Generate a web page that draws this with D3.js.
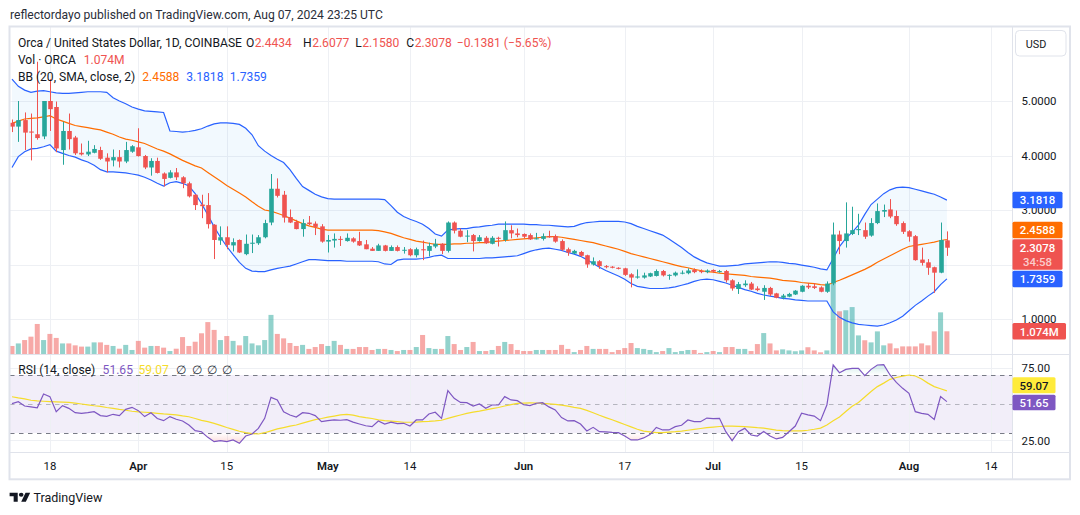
<!DOCTYPE html>
<html><head><meta charset="utf-8">
<script src="https://cdn.jsdelivr.net/npm/d3@7"></script>
<style>
html,body{margin:0;padding:0;background:#fff;}
svg{display:block;font-family:Roboto,'Noto Sans',sans-serif;}
</style></head><body>
<svg id="c" width="1080" height="515"></svg>
<script>
// ---------------- DATA ----------------
const startDate = "2024-03-12";
const endAxisDate = "2024-08-14";
const opens = [
4.60,4.53,4.65,4.44,4.39,4.35,5.00,4.89,4.10,4.45,
4.33,4.05,4.02,4.05,4.10,3.96,3.91,3.97,3.89,4.07,
4.15,3.99,3.78,3.90,3.67,3.59,3.69,3.60,3.49,3.28,
3.10,3.09,2.73,2.44,2.50,2.35,2.45,2.19,2.38,2.39,
2.50,2.77,3.39,3.28,2.87,2.78,2.65,2.77,2.75,2.70,
2.42,2.44,2.47,2.43,2.48,2.43,2.37,2.29,2.25,2.35,
2.25,2.32,2.26,2.28,2.17,2.28,2.25,2.33,2.38,2.25,
2.77,2.62,2.52,2.54,2.43,2.49,2.38,2.49,2.45,2.63,
2.57,2.56,2.54,2.47,2.47,2.52,2.52,2.43,2.28,2.20,
2.23,2.17,2.00,2.06,1.97,1.96,1.94,1.93,1.82,1.76,
1.76,1.78,1.79,1.88,1.80,1.80,1.84,1.84,1.90,1.88,
1.86,1.90,1.86,1.88,1.71,1.55,1.62,1.65,1.56,1.50,
1.57,1.47,1.39,1.41,1.45,1.50,1.61,1.60,1.58,1.50,
1.65,2.55,2.43,2.56,2.63,2.63,2.53,2.76,2.97,3.01,
2.89,2.76,2.61,2.52,2.09,2.04,1.95,1.85,2.4434];
const highs = [
4.66,5.00,4.79,4.77,5.72,5.00,5.40,4.99,4.62,4.77,
4.36,4.22,4.27,4.19,4.16,4.04,4.11,4.10,4.25,4.19,
4.50,4.01,3.95,3.96,3.69,3.73,3.77,3.62,3.52,3.29,
3.28,3.31,2.74,2.70,2.70,2.48,2.46,2.55,2.55,2.54,
2.82,3.66,3.58,3.35,3.01,2.82,2.83,2.89,2.79,2.74,
2.54,2.57,2.52,2.57,2.50,2.60,2.45,2.32,2.38,2.36,
2.35,2.35,2.32,2.30,2.31,2.44,2.40,2.47,2.39,2.79,
2.79,2.66,2.63,2.56,2.54,2.52,2.52,2.51,2.79,2.72,
2.66,2.57,2.57,2.58,2.57,2.62,2.55,2.46,2.31,2.27,
2.25,2.18,2.13,2.08,1.99,1.97,1.95,1.94,1.84,1.91,
1.85,1.85,1.91,1.90,1.82,1.87,1.89,1.93,1.93,1.91,
1.91,1.91,1.90,1.90,1.73,1.68,1.71,1.68,1.60,1.62,
1.59,1.48,1.46,1.48,1.53,1.62,1.66,1.66,1.60,1.69,
2.77,2.62,3.14,3.06,2.93,2.77,2.85,3.12,3.10,3.20,
2.99,2.79,2.63,2.54,2.31,2.10,1.96,2.77,2.6077];
const lows = [
4.43,4.25,4.10,3.91,4.29,4.30,4.45,4.06,3.83,4.11,
4.01,4.00,3.99,4.04,3.92,3.69,3.80,3.78,3.86,4.05,
3.98,3.75,3.63,3.67,3.43,3.58,3.55,3.40,3.23,3.00,
2.85,2.66,2.10,2.36,2.28,2.24,2.21,2.17,2.21,2.36,
2.48,2.72,3.23,2.77,2.76,2.645,2.51,2.72,2.54,2.40,
2.22,2.31,2.34,2.42,2.40,2.34,2.28,2.25,2.25,2.24,
2.25,2.24,2.20,2.15,2.13,2.08,2.15,2.30,2.19,2.22,
2.57,2.50,2.41,2.24,2.42,2.38,2.37,2.33,2.42,2.48,
2.50,2.48,2.45,2.46,2.44,2.49,2.40,2.25,2.16,2.19,
2.14,1.94,1.98,1.92,1.93,1.93,1.91,1.79,1.58,1.74,
1.74,1.77,1.78,1.78,1.72,1.78,1.82,1.82,1.84,1.84,
1.84,1.85,1.85,1.67,1.52,1.46,1.59,1.53,1.51,1.35,
1.42,1.38,1.36,1.40,1.44,1.49,1.55,1.55,1.49,1.48,
1.62,2.19,2.31,2.54,2.54,2.47,2.51,2.74,2.87,2.85,
2.71,2.56,2.42,2.07,1.98,1.81,1.48,1.84,2.1580];
const closes = [
4.53,4.65,4.42,4.42,4.32,5.00,4.85,4.13,4.45,4.30,
4.04,4.02,4.07,4.12,3.94,3.89,3.97,3.89,4.10,4.17,
3.99,3.78,3.90,3.68,3.57,3.69,3.60,3.49,3.25,3.09,
3.07,2.74,2.45,2.50,2.36,2.41,2.22,2.38,2.40,2.50,
2.76,3.39,3.26,2.86,2.77,2.65,2.76,2.74,2.69,2.42,
2.45,2.47,2.46,2.49,2.42,2.35,2.28,2.25,2.35,2.25,
2.32,2.25,2.27,2.17,2.28,2.26,2.34,2.38,2.25,2.77,
2.62,2.51,2.53,2.43,2.50,2.39,2.49,2.47,2.63,2.57,
2.54,2.51,2.46,2.48,2.52,2.50,2.42,2.27,2.22,2.25,
2.16,2.00,2.06,1.97,1.95,1.94,1.92,1.81,1.76,1.78,
1.80,1.84,1.88,1.80,1.81,1.85,1.85,1.89,1.86,1.86,
1.89,1.87,1.88,1.71,1.56,1.64,1.65,1.54,1.53,1.57,
1.45,1.39,1.43,1.46,1.52,1.61,1.58,1.57,1.50,1.65,
2.55,2.43,2.57,2.63,2.65,2.51,2.76,2.98,3.00,2.88,
2.74,2.60,2.51,2.08,2.03,1.94,1.85,2.45,2.3078];
const lastChange = -0.1381;
const lastChangePct = -5.65;
// volume in millions
const volumes = [
0.38,0.50,0.66,0.82,1.42,0.66,0.95,0.76,0.50,0.50,
0.41,0.35,0.35,0.55,0.55,0.43,0.38,0.25,0.43,0.19,
0.62,0.30,0.38,0.38,0.30,0.14,0.25,0.80,0.38,0.58,
0.98,1.51,1.14,0.66,0.85,0.62,0.41,0.85,0.50,0.41,
0.66,1.85,0.95,0.74,0.52,0.38,0.43,0.24,0.33,0.47,
0.38,0.62,0.43,0.24,0.24,0.33,0.33,0.19,0.24,0.24,
0.19,0.14,0.19,0.19,0.33,0.90,0.28,0.24,0.24,0.85,
0.47,0.19,0.33,0.57,0.14,0.14,0.19,0.38,0.57,0.47,
0.19,0.14,0.14,0.19,0.19,0.19,0.19,0.43,0.24,0.09,
0.19,0.38,0.24,0.24,0.24,0.09,0.19,0.28,0.52,0.28,
0.24,0.19,0.09,0.14,0.28,0.09,0.14,0.19,0.19,0.05,
0.09,0.14,0.09,0.33,0.33,0.24,0.24,0.14,0.47,0.99,
0.50,0.17,0.22,0.17,0.13,0.17,0.32,0.17,0.08,0.17,
3.33,2.02,2.07,2.22,0.88,0.65,0.55,1.07,0.41,0.50,
0.27,0.36,0.36,0.36,0.50,0.41,1.07,1.97,1.074];
const bbUpper = [
5.40,5.27,5.20,5.16,5.18,5.19,5.17,5.15,5.14,5.14,
5.15,5.16,5.17,5.17,5.17,5.16,5.06,5.00,4.95,4.89,
4.85,4.82,4.81,4.80,4.79,4.45,4.44,4.43,4.44,4.46,
4.49,4.54,4.58,4.60,4.60,4.59,4.57,4.50,4.38,4.18,
4.08,4.00,3.93,3.87,3.74,3.58,3.43,3.36,3.29,3.24,
3.21,3.20,3.20,3.20,3.20,3.20,3.20,3.20,3.20,3.19,
3.08,2.96,2.88,2.83,2.79,2.74,2.66,2.56,2.52,2.63,
2.65,2.66,2.66,2.68,2.69,2.71,2.72,2.74,2.74,2.74,
2.74,2.74,2.73,2.73,2.72,2.72,2.71,2.70,2.69,2.70,
2.74,2.77,2.78,2.79,2.79,2.79,2.79,2.78,2.75,2.70,
2.66,2.62,2.58,2.54,2.47,2.39,2.31,2.22,2.14,2.08,
2.03,2.00,1.97,1.97,1.98,1.99,2.01,2.02,2.03,2.04,
2.05,2.05,2.04,2.02,2.01,1.99,1.97,1.95,1.92,1.90,
2.11,2.33,2.48,2.59,2.72,2.92,3.10,3.20,3.30,3.37,
3.41,3.42,3.41,3.38,3.35,3.32,3.29,3.24,3.1818];
const bbBasis = [
4.59,4.63,4.67,4.68,4.69,4.71,4.73,4.67,4.63,4.59,
4.55,4.53,4.51,4.49,4.47,4.43,4.39,4.34,4.30,4.28,
4.25,4.22,4.17,4.12,4.08,4.03,3.97,3.91,3.86,3.81,
3.77,3.69,3.61,3.53,3.45,3.38,3.31,3.24,3.15,3.07,
3.00,2.98,2.94,2.90,2.85,2.80,2.75,2.71,2.68,2.65,
2.63,2.63,2.63,2.63,2.63,2.63,2.63,2.63,2.62,2.60,
2.57,2.53,2.49,2.46,2.43,2.41,2.39,2.37,2.37,2.37,
2.38,2.38,2.39,2.39,2.40,2.40,2.42,2.43,2.44,2.45,
2.46,2.47,2.48,2.49,2.50,2.51,2.51,2.50,2.48,2.46,
2.44,2.42,2.40,2.37,2.34,2.31,2.28,2.24,2.20,2.17,
2.14,2.11,2.08,2.05,2.02,1.99,1.96,1.94,1.91,1.89,
1.87,1.86,1.84,1.83,1.82,1.81,1.80,1.78,1.77,1.76,
1.75,1.73,1.71,1.70,1.69,1.67,1.66,1.65,1.63,1.62,
1.67,1.71,1.76,1.81,1.86,1.91,1.97,2.04,2.10,2.16,
2.22,2.28,2.33,2.35,2.37,2.39,2.41,2.44,2.4588];
const bbLower = [
3.78,3.98,4.07,4.12,4.13,4.16,4.20,4.08,4.04,4.00,
3.97,3.92,3.88,3.82,3.74,3.70,3.70,3.69,3.68,3.66,
3.64,3.60,3.55,3.49,3.44,3.50,3.52,3.49,3.44,3.30,
3.12,2.91,2.69,2.50,2.33,2.18,2.04,1.93,1.88,1.87,
1.87,1.90,1.93,1.95,1.97,2.01,2.05,2.09,2.09,2.08,
2.07,2.07,2.07,2.06,2.06,2.06,2.06,2.06,2.05,2.01,
2.00,2.08,2.10,2.10,2.10,2.11,2.13,2.16,2.17,2.11,
2.11,2.11,2.11,2.11,2.11,2.12,2.12,2.13,2.14,2.15,
2.16,2.20,2.24,2.27,2.29,2.30,2.28,2.26,2.22,2.19,
2.15,2.09,2.02,1.95,1.89,1.84,1.79,1.73,1.65,1.60,
1.58,1.56,1.56,1.56,1.57,1.59,1.62,1.65,1.69,1.72,
1.73,1.72,1.69,1.66,1.62,1.58,1.54,1.51,1.47,1.44,
1.42,1.40,1.38,1.37,1.35,1.34,1.33,1.33,1.33,1.33,
1.13,1.03,0.97,0.93,0.90,0.89,0.88,0.87,0.89,0.93,
0.98,1.05,1.15,1.25,1.33,1.42,1.50,1.63,1.7359];
const rsi = [
50.3,51.6,48.6,48.0,47.4,56.9,55.1,44.7,48.9,47.0,
44.0,43.6,44.0,44.7,42.0,41.5,42.9,42.0,46.3,47.7,
45.4,41.3,44.0,40.0,38.5,41.3,39.5,38.3,35.5,31.6,
30.9,27.0,24.0,24.7,24.0,25.2,22.9,27.9,29.3,33.2,
40.1,54.6,52.8,44.7,42.4,41.0,44.0,43.6,42.0,37.8,
38.5,39.0,38.8,39.2,37.5,36.2,35.0,34.4,38.3,36.2,
37.5,36.5,36.7,34.8,39.0,39.0,43.1,44.3,40.1,59.2,
53.9,51.1,50.9,48.6,50.0,47.0,49.3,49.3,55.1,52.8,
52.3,49.5,48.9,50.5,50.9,48.0,45.9,40.6,38.3,38.5,
36.2,31.4,33.9,30.9,30.8,30.4,30.2,27.9,25.2,25.2,
26.6,28.9,33.9,32.1,32.1,34.4,35.3,39.0,37.8,37.8,
40.3,39.9,40.1,30.9,24.7,30.9,33.2,28.6,27.9,31.1,
27.9,25.9,27.0,30.9,34.8,43.6,42.5,41.7,38.5,49.3,
76.9,71.6,73.9,74.6,74.6,69.5,73.9,76.9,77.1,70.0,
64.9,60.8,57.4,44.7,43.5,42.9,39.4,55.1,51.65];
const rsiMA = [
55.0,54.2,53.5,52.6,52.1,51.9,51.7,51.5,51.3,51.1,
50.6,50.0,49.4,48.8,48.3,47.6,47.0,46.3,45.7,45.0,
44.6,44.3,44.0,43.6,43.2,42.9,42.5,41.8,41.2,40.0,
38.7,37.8,36.6,35.3,33.8,32.5,31.2,30.3,29.6,29.3,
30.2,31.5,32.8,33.7,34.7,35.5,36.8,38.0,39.2,40.0,
40.9,41.7,42.5,42.9,42.3,41.3,40.6,40.0,39.1,38.6,
38.2,37.8,37.4,37.4,37.5,37.8,38.0,38.3,38.8,40.1,
41.3,42.4,43.5,44.4,45.1,45.9,46.8,47.6,48.6,49.6,
50.4,50.6,50.8,50.7,50.4,50.1,49.8,49.2,48.5,47.7,
47.0,45.6,44.0,42.2,40.6,39.1,37.5,35.9,34.2,32.6,
31.3,30.8,30.3,30.3,30.6,30.9,31.3,31.9,32.5,33.1,
33.7,34.1,34.5,34.8,34.7,34.6,34.4,34.1,33.7,33.4,
32.7,32.0,31.6,31.5,31.4,31.4,31.9,32.6,33.4,35.5,
38.4,41.0,44.8,48.5,51.0,54.8,58.6,62.0,64.4,67.0,
68.3,69.2,70.0,69.3,67.3,64.4,62.0,60.5,59.07];
const priceTicks = [1,2,3,4,5];
const rsiTicks = [25,75];
const rsiLevels = [70,50,30];
const timeTickDates = ["2024-03-18","2024-04-01","2024-04-15","2024-05-01","2024-05-14","2024-06-01","2024-06-17","2024-07-01","2024-07-15","2024-08-01","2024-08-14"];
const timeTickLabels = ["18","Apr","15","May","14","Jun","17","Jul","15","Aug","14"];

// ---------------- LAYOUT ----------------
const svg = d3.select('#c');
const PL = 10, PR = 1012, FR = 1070;
const priceTop = 27, priceBot = 354, rsiTop = 354.5, rsiBot = 452.5, axisBot = 479.3;
const DARK = '#131722', UP = '#26a69a', DOWN = '#ef5350';
const BLUE = '#2962ff', ORANGE = '#ff6d00', PURPLE = '#7e57c2', YELLOW = '#f5dc2c';

const parse = d3.utcParse('%Y-%m-%d');
const start = parse(startDate);
const dates = d3.range(closes.length).map(i => d3.utcDay.offset(start, i));
const x = d3.scaleUtc().domain([start, parse(endAxisDate)]).range([12, 991.1]);
const y = d3.scaleLinear().domain([1, 5]).range([319, 101]);
const yv = d3.scaleLinear().domain([0, 1.074]).range([354, 331.3]);
const yr = d3.scaleLinear().domain([30, 70]).range([433, 375]);

const data = dates.map((d, i) => ({d, o: opens[i], h: highs[i], l: lows[i], c: closes[i], v: volumes[i],
  up: bbUpper[i], mid: bbBasis[i], lo: bbLower[i], r: rsi[i], ma: rsiMA[i]}));

function fitSize(str, target, weight) {
  const t = svg.append('text').attr('font-weight', weight || 400).text(str);
  let s = 100;
  for (let k = 0; k < 4; k++) {
    t.attr('font-size', s);
    const w = t.node().getComputedTextLength();
    s = s * target / w;
  }
  t.remove();
  return s;
}
const headerSize = fitSize('reflectordayo published on TradingView.com, Aug 07, 2024 23:25 UTC', 373);
const legendSize = fitSize('Orca / United States Dollar, 1D, COINBASE', 224);
const axisSize = fitSize('5.0000', 35);
const footSize = fitSize('TradingView', 69);

svg.append('rect').attr('width', 1080).attr('height', 515).attr('fill', '#fff');

const defs = svg.append('defs');
defs.append('clipPath').attr('id', 'cp').append('rect').attr('x', PL).attr('y', priceTop).attr('width', PR - PL).attr('height', priceBot - priceTop);
defs.append('clipPath').attr('id', 'cr').append('rect').attr('x', PL).attr('y', rsiTop).attr('width', PR - PL).attr('height', rsiBot - rsiTop);
defs.append('clipPath').attr('id', 'below30').append('rect').attr('x', PL).attr('y', yr(30)).attr('width', PR - PL).attr('height', 40);
defs.append('clipPath').attr('id', 'above70').append('rect').attr('x', PL).attr('y', rsiTop).attr('width', PR - PL).attr('height', yr(70) - rsiTop);
const g1 = defs.append('linearGradient').attr('id', 'gOS').attr('gradientUnits', 'userSpaceOnUse').attr('x1', 0).attr('x2', 0).attr('y1', yr(30)).attr('y2', yr(20));
g1.append('stop').attr('offset', 0).attr('stop-color', 'rgba(239,83,80,0)');
g1.append('stop').attr('offset', 1).attr('stop-color', 'rgba(239,83,80,0.3)');
const g2 = defs.append('linearGradient').attr('id', 'gOB').attr('gradientUnits', 'userSpaceOnUse').attr('x1', 0).attr('x2', 0).attr('y1', yr(70)).attr('y2', yr(80));
g2.append('stop').attr('offset', 0).attr('stop-color', 'rgba(38,166,154,0)');
g2.append('stop').attr('offset', 1).attr('stop-color', 'rgba(38,166,154,0.3)');

// header
svg.append('text').attr('x', 10).attr('y', 18.8).attr('font-size', headerSize).attr('fill', '#2a2e39')
  .text('reflectordayo published on TradingView.com, Aug 07, 2024 23:25 UTC');

// RSI band background
svg.append('rect').attr('x', PL).attr('y', yr(70)).attr('width', PR - PL).attr('height', yr(30) - yr(70)).attr('fill', 'rgba(126,87,194,0.1)');

// grid
const tickDates = timeTickDates.map(parse);
const grid = svg.append('g').attr('stroke', '#eef0f4').attr('stroke-width', 1);
grid.selectAll('.v').data(tickDates).join('line')
  .attr('x1', d => Math.round(x(d)) + 0.5).attr('x2', d => Math.round(x(d)) + 0.5)
  .attr('y1', priceTop).attr('y2', rsiBot);
grid.selectAll('.h').data(priceTicks).join('line')
  .attr('x1', PL).attr('x2', PR).attr('y1', d => Math.round(y(d)) + 0.5).attr('y2', d => Math.round(y(d)) + 0.5);
grid.selectAll('.hr').data(rsiTicks).join('line')
  .attr('x1', PL).attr('x2', PR).attr('y1', d => Math.round(yr(d)) + 0.5).attr('y2', d => Math.round(yr(d)) + 0.5);

// ---------------- PRICE PANE ----------------
const pp = svg.append('g').attr('clip-path', 'url(#cp)');
pp.selectAll('.vol').data(data).join('rect')
  .attr('x', d => x(d.d) - 2.5).attr('width', 5)
  .attr('y', d => yv(d.v)).attr('height', d => yv(0) - yv(d.v))
  .attr('fill', d => d.c >= d.o ? 'rgba(38,166,154,0.5)' : 'rgba(239,83,80,0.5)');
pp.append('path').datum(data)
  .attr('d', d3.area().x(d => x(d.d)).y0(d => y(d.lo)).y1(d => y(d.up)))
  .attr('fill', 'rgba(33,150,243,0.06)');
const lineOf = key => d3.line().x(d => x(d.d)).y(d => y(d[key]));
pp.append('path').datum(data).attr('d', lineOf('up')).attr('fill', 'none').attr('stroke', BLUE).attr('stroke-width', 1.2);
pp.append('path').datum(data).attr('d', lineOf('lo')).attr('fill', 'none').attr('stroke', BLUE).attr('stroke-width', 1.2);
pp.append('path').datum(data).attr('d', lineOf('mid')).attr('fill', 'none').attr('stroke', ORANGE).attr('stroke-width', 1.2);
const cg = pp.selectAll('.cd').data(data).join('g');
cg.append('line')
  .attr('x1', d => Math.round(x(d.d)) + 0.5).attr('x2', d => Math.round(x(d.d)) + 0.5)
  .attr('y1', d => y(d.h)).attr('y2', d => y(d.l))
  .attr('stroke', d => d.c >= d.o ? UP : DOWN).attr('stroke-width', 1);
cg.append('rect')
  .attr('x', d => Math.round(x(d.d)) + 0.5 - 2.3).attr('width', 4.6)
  .attr('y', d => y(Math.max(d.o, d.c)))
  .attr('height', d => Math.max(1, Math.abs(y(d.o) - y(d.c))))
  .attr('fill', d => d.c >= d.o ? UP : DOWN);

// ---------------- RSI PANE ----------------
const rp = svg.append('g').attr('clip-path', 'url(#cr)');
rp.append('path').datum(data).attr('clip-path', 'url(#below30)')
  .attr('d', d3.area().x(d => x(d.d)).y0(yr(30)).y1(d => yr(d.r))).attr('fill', 'url(#gOS)');
rp.append('path').datum(data).attr('clip-path', 'url(#above70)')
  .attr('d', d3.area().x(d => x(d.d)).y0(yr(70)).y1(d => yr(d.r))).attr('fill', 'url(#gOB)');
rp.selectAll('.lvl').data(rsiLevels).join('line')
  .attr('x1', PL).attr('x2', PR).attr('y1', d => Math.round(yr(d)) + 0.5).attr('y2', d => Math.round(yr(d)) + 0.5)
  .attr('stroke', d => d === 50 ? 'rgba(120,123,134,0.5)' : '#787b86').attr('stroke-dasharray', '4.5,4.5');
rp.append('path').datum(data).attr('d', d3.line().x(d => x(d.d)).y(d => yr(d.ma)))
  .attr('fill', 'none').attr('stroke', YELLOW).attr('stroke-width', 1.2);
rp.append('path').datum(data).attr('d', d3.line().x(d => x(d.d)).y(d => yr(d.r)))
  .attr('fill', 'none').attr('stroke', PURPLE).attr('stroke-width', 1.2);

// ---------------- FRAME / SEPARATORS ----------------
const sep = svg.append('g').attr('stroke', '#e0e3eb').attr('stroke-width', 1);
sep.append('line').attr('x1', PL).attr('x2', FR).attr('y1', 354.5).attr('y2', 354.5);
sep.append('line').attr('x1', PL).attr('x2', FR).attr('y1', rsiBot).attr('y2', rsiBot);
sep.append('line').attr('x1', PR + 0.5).attr('x2', PR + 0.5).attr('y1', 26).attr('y2', axisBot);
svg.append('rect').attr('x', 9.5).attr('y', 26.5).attr('width', FR - 9.5).attr('height', axisBot - 26.5)
  .attr('fill', 'none').attr('stroke', '#e0e3eb').attr('stroke-width', 2);

// time axis labels
svg.selectAll('.tl').data(tickDates).join('text')
  .attr('x', d => x(d)).attr('y', 470.2).attr('text-anchor', 'middle')
  .attr('font-size', axisSize).attr('fill', DARK)
  .attr('font-weight', (d, i) => isNaN(+timeTickLabels[i]) ? 600 : 400)
  .text((d, i) => timeTickLabels[i]);

// price label boxes (positions derived from last values)
const last = data[data.length - 1];
const fmt4 = d3.format('.4f');
const yU = y(last.up), yC = y(last.c), yL = y(last.lo), yVol = yv(last.v);
const boxes = [
  {yc: yU, h: 16.5, w: 50, fill: BLUE, lines: [{s: fmt4(last.up), dy: 4.3}]},
  {yc: yC + 6.8, h: 30.4, w: 50, fill: DOWN, lines: [{s: fmt4(last.c), dy: -2.5}, {s: '34:58', dy: 11.5, fill: 'rgba(255,255,255,0.72)'}]},
  {yc: yC - 17.6, h: 16.5, w: 50, fill: ORANGE, lines: [{s: fmt4(last.mid), dy: 4.3}]},
  {yc: yL, h: 16.5, w: 50, fill: BLUE, lines: [{s: fmt4(last.lo), dy: 4.3}]},
  {yc: yVol, h: 16.5, w: 53.5, fill: DOWN, lines: [{s: d3.format('.3f')(last.v) + 'M', dy: 4.3}]}
];
// tick labels, hidden where a price box covers their centre
const covered = v => boxes.some(b => v > b.yc - b.h / 2 && v < b.yc + b.h / 2);
svg.selectAll('.pl').data(priceTicks.filter(p => !covered(y(p)))).join('text')
  .attr('x', 1021.5).attr('y', d => y(d) + 4.3).attr('font-size', axisSize).attr('fill', DARK)
  .text(d => d3.format('.4f')(d));
svg.selectAll('.rl').data(rsiTicks).join('text')
  .attr('x', 1021.5).attr('y', d => yr(d) + 4.3).attr('font-size', axisSize).attr('fill', DARK)
  .text(d => d3.format('.2f')(d));
function drawBox(b, txtFill) {
  svg.append('rect').attr('x', PR + 0.5).attr('y', b.yc - b.h / 2).attr('width', b.w).attr('height', b.h).attr('rx', 1.5).attr('fill', b.fill);
  b.lines.forEach(t => {
    svg.append('text').attr('x', PR + 0.5 + b.w / 2).attr('y', b.yc + t.dy).attr('text-anchor', 'middle')
      .attr('font-size', axisSize).attr('font-weight', 500).attr('fill', t.fill || txtFill).text(t.s);
  });
}
boxes.forEach(b => drawBox(b, '#fff'));
const yR = yr(last.r);
drawBox({yc: yR + 0.8, h: 15.5, w: 43, fill: PURPLE, lines: [{s: d3.format('.2f')(last.r), dy: 4.3}]}, '#fff');
drawBox({yc: yR - 16.3, h: 16, w: 43, fill: '#ffeb3b', lines: [{s: d3.format('.2f')(last.ma), dy: 4.3}]}, DARK);

// USD button
svg.append('rect').attr('x', 1015.5).attr('y', 30.5).attr('width', 50.5).attr('height', 25.5).attr('rx', 4)
  .attr('fill', '#fff').attr('stroke', '#e0e3eb');
svg.append('text').attr('x', 1036).attr('y', 47.5).attr('text-anchor', 'middle').attr('font-size', axisSize * 0.95).attr('fill', DARK).text('USD');

// ---------------- LEGENDS ----------------
// each segment sits at its reference x unless the previous one would collide
function legendRow(yp, segs, size) {
  let prevEnd = -1;
  segs.forEach(s => {
    const xp = Math.max(s.x, prevEnd + (s.gap || 1.5));
    const t = svg.append('text').attr('x', xp).attr('y', yp).attr('font-size', size || legendSize).attr('fill', s.fill).text(s.s);
    prevEnd = xp + t.node().getComputedTextLength();
  });
}
const L1 = 46.6, L2 = 64.0, L3 = 81.2;
legendRow(L1, [
  {x: 17.9, s: 'Orca / United States Dollar, 1D, COINBASE', fill: DARK},
  {x: 245.2, s: 'O', fill: DARK, gap: 4}, {x: 250.8, s: fmt4(opens[opens.length - 1]), fill: DOWN, gap: 0.5},
  {x: 303.0, s: 'H', fill: DARK, gap: 6}, {x: 309.0, s: fmt4(highs[highs.length - 1]), fill: DOWN, gap: 0.5},
  {x: 354.7, s: 'L', fill: DARK, gap: 6}, {x: 360.2, s: fmt4(lows[lows.length - 1]), fill: DOWN, gap: 0.5},
  {x: 406.3, s: 'C', fill: DARK, gap: 6}, {x: 412.2, s: fmt4(closes[closes.length - 1]), fill: DOWN, gap: 0.5},
  {x: 451.1, s: '\u2212' + fmt4(Math.abs(lastChange)), fill: DOWN, gap: 5},
  {x: 489.0, s: '(\u2212' + d3.format('.2f')(Math.abs(lastChangePct)) + '%)', fill: DOWN, gap: 3}
]);
legendRow(L2, [
  {x: 17.9, s: 'Vol \u00b7 ORCA', fill: DARK},
  {x: 83.7, s: d3.format('.3f')(last.v) + 'M', fill: DOWN, gap: 5}
]);
legendRow(L3, [
  {x: 17.9, s: 'BB (20, SMA, close, 2)', fill: DARK},
  {x: 142.2, s: fmt4(last.mid), fill: ORANGE, gap: 5},
  {x: 186.3, s: fmt4(last.up), fill: BLUE, gap: 5},
  {x: 229.7, s: fmt4(last.lo), fill: BLUE, gap: 5}
]);
legendRow(374.2, [
  {x: 18.3, s: 'RSI (14, close)', fill: DARK},
  {x: 102.6, s: d3.format('.2f')(last.r), fill: PURPLE, gap: 5},
  {x: 138.4, s: d3.format('.2f')(last.ma), fill: YELLOW, gap: 5},
  {x: 175.6, s: '\u2205', fill: '#2a2e39', gap: 5},
  {x: 192.1, s: '\u2205', fill: '#2a2e39', gap: 4},
  {x: 206.6, s: '\u2205', fill: '#2a2e39', gap: 4},
  {x: 222.1, s: '\u2205', fill: '#2a2e39', gap: 4}
]);

// ---------------- FOOTER ----------------
svg.append('path').attr('d', 'M14 22H7V11H0V4h14v18zM28 22h-8l7.5-18h8L28 22zM20 12a4 4 0 1 0 0-8 4 4 0 0 0 0 8z')
  .attr('transform', 'translate(9.6,490.7) scale(0.58,0.5)').attr('fill', DARK);
svg.append('text').attr('x', 33.4).attr('y', 501.6).attr('font-size', footSize).attr('fill', DARK).text('TradingView');
</script>
</body></html>
